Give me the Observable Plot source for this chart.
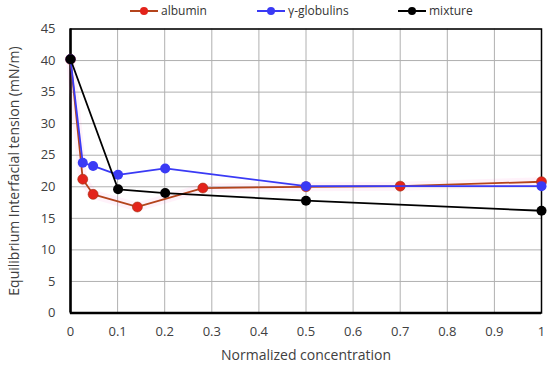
<!DOCTYPE html>
<html>
<head>
<meta charset="utf-8">
<script src="https://cdn.jsdelivr.net/npm/d3@7"></script>
<script src="https://cdn.jsdelivr.net/npm/@observablehq/plot@0.6"></script>
<style>
  body { margin: 0; background: #fff; }
  #wrap { position: relative; width: 550px; height: 369px; font-family: "Open Sans", sans-serif; }
  #legend { position: absolute; top: 0; left: 0; width: 550px; height: 20px; font-size: 12px; color: #333; }
  .item { position: absolute; top: 2px; display: flex; align-items: center; }
  .item svg { margin-right: 3px; }
</style>
</head>
<body>
<div id="wrap">
  <div id="legend"></div>
  <div id="chart"></div>
</div>
<script>
// Data
const albuminX = [0, 0.026, 0.048, 0.142, 0.281, 0.5, 0.7, 1];
const albuminY = [40.2, 21.2, 18.8, 16.8, 19.8, 20.0, 20.1, 20.8];
const globulinX = [0, 0.026, 0.048, 0.101, 0.201, 0.5, 1];
const globulinY = [40.2, 23.8, 23.3, 21.9, 22.9, 20.1, 20.1];
const mixtureX = [0, 0.101, 0.201, 0.5, 1];
const mixtureY = [40.2, 19.6, 19.0, 17.8, 16.2];
const xTicks = [0, 0.1, 0.2, 0.3, 0.4, 0.5, 0.6, 0.7, 0.8, 0.9, 1];
const yTicks = [0, 5, 10, 15, 20, 25, 30, 35, 40, 45];
const seriesNames = ["albumin", "γ-globulins", "mixture"];
const xLabel = "Normalized concentration";
const yLabel = "Equilibrium Interfacial tension (mN/m)";
const lineColors = ["#b4441c", "#3a3af5", "#000000"];
const dotColors = ["#e3231b", "#3a3af5", "#000000"];

const toRows = (xs, ys) => xs.map((x, i) => ({x, y: ys[i]}));
const albumin = toRows(albuminX, albuminY);
const globulin = toRows(globulinX, globulinY);
const mixture = toRows(mixtureX, mixtureY);

const chart = Plot.plot({
  width: 550,
  height: 369,
  marginLeft: 70,
  marginRight: 9,
  marginTop: 28.5,
  marginBottom: 56.5,
  style: {fontFamily: "Open Sans, sans-serif", fontSize: "13px", color: "#404040", background: "#fff"},
  x: {domain: [0, 1]},
  y: {domain: [0, 45]},
  marks: [
    Plot.gridX(xTicks, {stroke: "#b0b0b0", strokeOpacity: 1, strokeWidth: 1}),
    Plot.gridY(yTicks, {stroke: "#b0b0b0", strokeOpacity: 1, strokeWidth: 1}),
    Plot.axisX(xTicks, {tickSize: 0, tickPadding: 14, fontSize: 13, fill: "#404040",
      tickFormat: d => String(+d.toFixed(1)), label: null}),
    Plot.axisY(yTicks, {tickSize: 0, tickPadding: 15, fontSize: 13, fill: "#404040", label: null}),
    Plot.text([xLabel], {text: d => d, frameAnchor: "bottom", dy: 47, fontSize: 14, fill: "#404040"}),
    Plot.text([yLabel], {text: d => d, frameAnchor: "left", textAnchor: "middle", rotate: -90, dx: -56, fontSize: 14, fill: "#404040"}),
    Plot.frame({stroke: "#000", strokeWidth: 1.5}),
    Plot.ruleX([0], {stroke: "#000", strokeWidth: 2.5}),
    Plot.ruleY([0], {stroke: "#000", strokeWidth: 2.5}),
    // faint pink halo of albumin
    Plot.line(albumin, {x: "x", y: "y", stroke: "#ff80d0", strokeOpacity: 0.1, strokeWidth: 9}),
    Plot.line(albumin, {x: "x", y: "y", stroke: lineColors[0], strokeWidth: 1.8}),
    Plot.dot(albumin, {x: "x", y: "y", r: 5, fill: dotColors[0], stroke: "#a03010", strokeWidth: 0.6}),
    Plot.line(globulin, {x: "x", y: "y", stroke: lineColors[1], strokeWidth: 1.8}),
    Plot.dot(globulin, {x: "x", y: "y", r: 5, fill: dotColors[1]}),
    Plot.line(mixture, {x: "x", y: "y", stroke: lineColors[2], strokeWidth: 1.8}),
    Plot.dot(mixture, {x: "x", y: "y", r: 5, fill: dotColors[2]})
  ]
});
document.getElementById("chart").appendChild(chart);

// legend
const lefts = [130, 257, 398];
const legend = document.getElementById("legend");
seriesNames.forEach((name, i) => {
  const d = document.createElement("div");
  d.className = "item";
  d.style.left = lefts[i] + "px";
  d.innerHTML = `<svg width="28" height="14"><line x1="0" y1="7" x2="28" y2="7" stroke="${lineColors[i]}" stroke-width="2"/><circle cx="14" cy="7" r="4" fill="${dotColors[i]}"/></svg><span>${name}</span>`;
  legend.appendChild(d);
});
</script>
</body>
</html>
